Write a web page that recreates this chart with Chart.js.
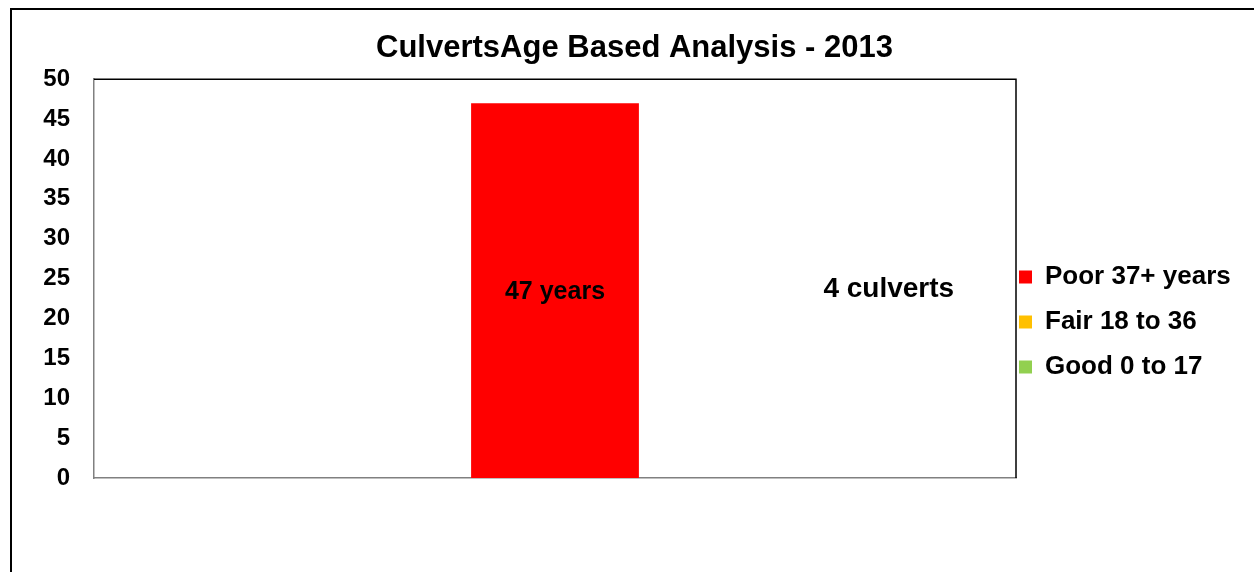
<!DOCTYPE html>
<html>
<head>
<meta charset="utf-8">
<script src="https://cdn.jsdelivr.net/npm/chart.js@4/dist/chart.umd.min.js"></script>
<style>
  html, body { margin: 0; padding: 0; background: #fff; }
  #wrap { width: 1254px; height: 572px; position: relative; }
</style>
</head>
<body>
<div id="wrap"><canvas id="c" width="1254" height="572"></canvas></div>
<script>
// ---- data ----
const categories = ['2013'];
const seriesNames = ['Poor 37+ years', 'Fair 18 to 36', 'Good 0 to 17'];
const poorValues = [47];
const fairValues = [0];
const goodValues = [0];
const barLabels = ['47 years'];
const culvertNote = '4 culverts';
const yTickMin = 0;
const yTickMax = 50;
const yTickStep = 5;
const titleText = 'CulvertsAge Based Analysis - 2013';

const FONT = '"Liberation Sans", Arial, sans-serif';
Chart.defaults.color = '#000';
Chart.defaults.font.family = FONT;

const framePlugin = {
  id: 'framePlugin',
  beforeLayout(chart) {
    const lg = chart.legend;
    if (lg && !lg._patchedFit) {
      const orig = lg.fit.bind(lg);
      lg.fit = function () { orig(); this.width = 238; };
      lg._patchedFit = true;
    }
  },
  afterLayout(chart) {
    const lg = chart.legend;
    if (lg) {
      const w = lg.width;
      lg.left = 1000; lg.right = lg.left + w;
      lg.top = 245; lg.bottom = 572; lg.height = lg.bottom - lg.top;
    }
    const tb = chart.titleBlock;
    if (tb) { tb.left += 7.5; tb.right += 7.5; }
  },
  beforeDraw(chart) {
    const ctx = chart.ctx;
    ctx.save();
    ctx.fillStyle = '#fff';
    ctx.fillRect(0, 0, chart.width, chart.height);
    ctx.strokeStyle = '#000';
    ctx.lineWidth = 2;
    ctx.beginPath();
    ctx.moveTo(11, chart.height);
    ctx.lineTo(11, 9);
    ctx.lineTo(chart.width, 9);
    ctx.stroke();
    ctx.restore();
  },
  afterDraw(chart) {
    const ctx = chart.ctx;
    const a = chart.chartArea;
    ctx.save();
    ctx.strokeStyle = '#000';
    ctx.lineWidth = 1.5;
    ctx.beginPath();
    ctx.moveTo(a.left, a.top);
    ctx.lineTo(a.right, a.top);
    ctx.lineTo(a.right, a.bottom);
    ctx.stroke();
    ctx.restore();
  },
  afterDatasetsDraw(chart) {
    const ctx = chart.ctx;
    const xs = chart.scales.x, ys = chart.scales.y;
    const a = chart.chartArea;
    ctx.save();
    ctx.fillStyle = '#000';
    ctx.textAlign = 'center';
    ctx.textBaseline = 'middle';
    ctx.font = 'bold 25px ' + FONT;
    ctx.fillText(barLabels[0], xs.getPixelForValue(0), ys.getPixelForValue(poorValues[0] / 2) + 2);
    ctx.font = 'bold 28px ' + FONT;
    ctx.fillText(culvertNote, a.left + 0.862 * (a.right - a.left), ys.getPixelForValue(23.9) + 2);
    ctx.restore();
  }
};

new Chart(document.getElementById('c'), {
  type: 'bar',
  data: {
    labels: categories,
    datasets: [
      { label: seriesNames[0], data: poorValues, backgroundColor: '#FF0000', borderWidth: 0 },
      { label: seriesNames[1], data: fairValues, backgroundColor: '#FFC000', borderWidth: 0 },
      { label: seriesNames[2], data: goodValues, backgroundColor: '#92D050', borderWidth: 0 }
    ]
  },
  options: {
    responsive: false,
    animation: false,
    devicePixelRatio: 1,
    layout: { padding: { left: 0, right: 0, top: 0, bottom: 94 } },
    datasets: { bar: { categoryPercentage: 1, barPercentage: 0.182 } },
    scales: {
      x: {
        stacked: true,
        ticks: { display: false },
        grid: { display: false, drawTicks: false },
        border: { display: true, color: '#808080', width: 1.5 },
        afterFit(s) { s.height = 0; }
      },
      y: {
        stacked: true,
        min: yTickMin,
        max: yTickMax,
        ticks: { stepSize: yTickStep, padding: 24, font: { size: 24, weight: 'bold' }, color: '#000' },
        grid: { display: false, drawTicks: false },
        border: { display: true, color: '#808080', width: 1.5 },
        afterFit(s) { s.width = 94; }
      }
    },
    plugins: {
      title: {
        display: true,
        text: titleText,
        font: { size: 31, weight: 'bold' },
        color: '#000',
        padding: { top: 30, bottom: 12 }
      },
      legend: {
        display: true,
        position: 'right',
        align: 'start',
        labels: {
          boxWidth: 13,
          boxHeight: 13,
          padding: 19,
          color: '#000',
          font: { size: 26, weight: 'bold' }
        }
      },
      tooltip: { enabled: false }
    }
  },
  plugins: [framePlugin]
});
</script>
</body>
</html>
